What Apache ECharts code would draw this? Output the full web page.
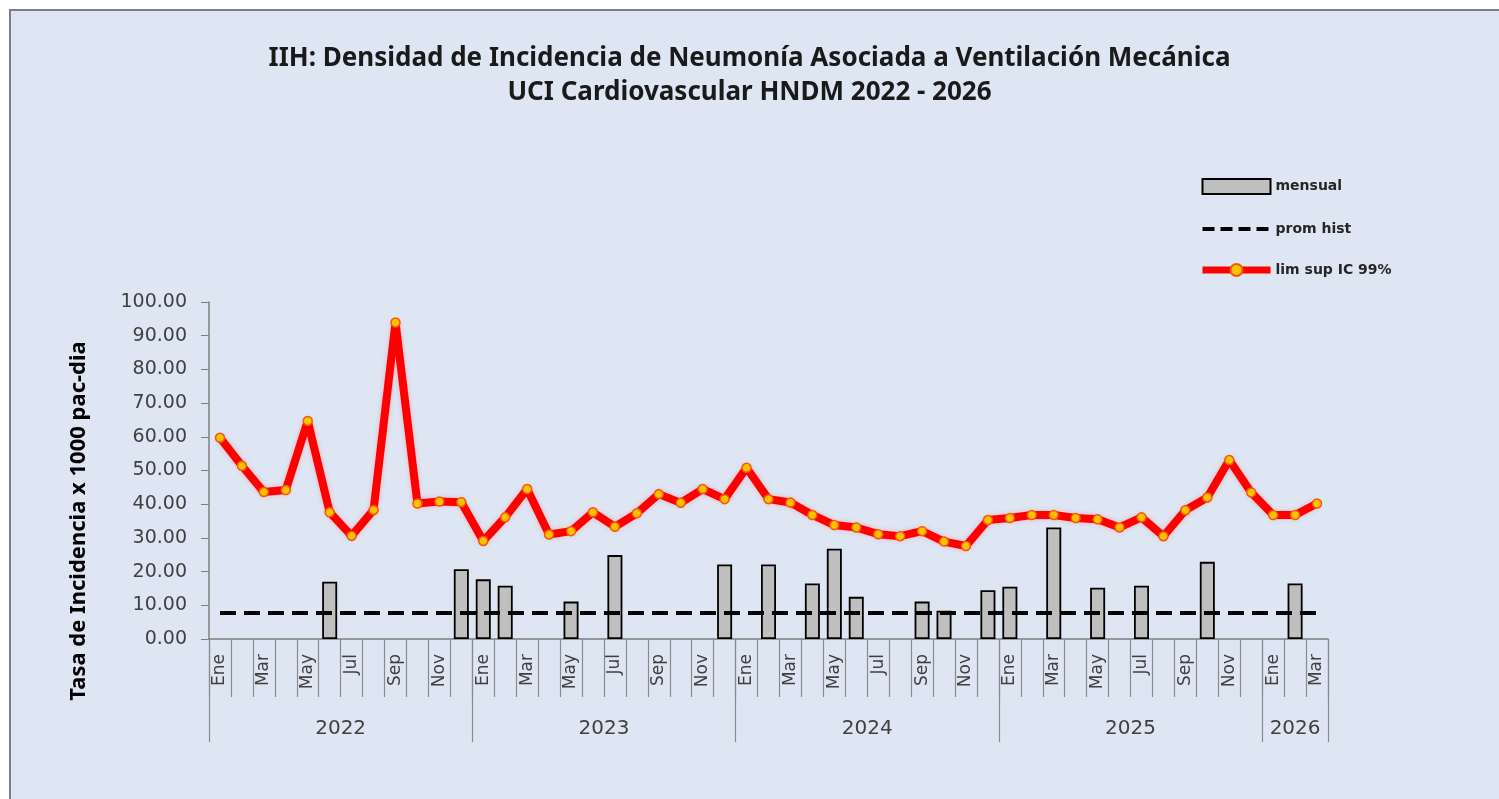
<!DOCTYPE html>
<html>
<head>
<meta charset="utf-8">
<script src="https://cdn.jsdelivr.net/npm/echarts@6/dist/echarts.min.js"></script>
<style>
html,body{margin:0;padding:0;background:#fff;}
#c{width:1499px;height:799px;}
</style>
</head>
<body>
<div id="c"></div>
<script>
// ---- data ----
var years = ['2022', '2023', '2024', '2025', '2026'];
var monthsPerYear = [12, 12, 12, 12, 3];
var months = ['Ene', 'Feb', 'Mar', 'Abr', 'May', 'Jun', 'Jul', 'Ago', 'Sep', 'Oct', 'Nov', 'Dic'];

var mensual = [
  null, null, null, null, null, 17.0, null, null, null, null, null, 20.7,
  17.7, 15.8, null, null, 11.1, null, 24.9, null, null, null, null, 22.1,
  null, 22.1, null, 16.5, 26.8, 12.5, null, null, 11.1, 8.4, null, 14.5,
  15.5, null, 33.1, null, 15.2, null, 15.8, null, null, 22.9, null, null,
  null, 16.5, null
];
var promHist = [
  7.7, 7.7, 7.7, 7.7, 7.7, 7.7, 7.7, 7.7, 7.7, 7.7, 7.7, 7.7,
  7.7, 7.7, 7.7, 7.7, 7.7, 7.7, 7.7, 7.7, 7.7, 7.7, 7.7, 7.7,
  7.7, 7.7, 7.7, 7.7, 7.7, 7.7, 7.7, 7.7, 7.7, 7.7, 7.7, 7.7,
  7.7, 7.7, 7.7, 7.7, 7.7, 7.7, 7.7, 7.7, 7.7, 7.7, 7.7, 7.7,
  7.7, 7.7, 7.7
];
var limSup = [
  59.7, 51.4, 43.6, 44.2, 64.7, 37.6, 30.6, 38.3, 93.9, 40.2, 40.8, 40.6,
  29.1, 36.1, 44.5, 31.0, 32.0, 37.6, 33.3, 37.3, 43.0, 40.4, 44.5, 41.5,
  50.8, 41.5, 40.5, 36.8, 33.8, 33.1, 31.1, 30.5, 32.0, 28.9, 27.6, 35.3,
  35.9, 36.8, 36.8, 35.9, 35.5, 33.1, 36.1, 30.5, 38.2, 42.0, 53.1, 43.5,
  36.8, 36.8, 40.2
];
var yTicks = { min: 0, max: 100, interval: 10 };
var seriesNames = ['mensual', 'prom hist', 'lim sup IC 99%'];
var titleLines = ['IIH: Densidad de Incidencia de Neumonía Asociada a Ventilación Mecánica', 'UCI Cardiovascular HNDM 2022 - 2026'];
var yTitle = 'Tasa de Incidencia x 1000 pac-dia';

// ---- derived ----
var categories = [];
var yearStarts = [0];
var yearCenters = [];
(function () {
  var pos = 0;
  for (var y = 0; y < years.length; y++) {
    for (var m = 0; m < monthsPerYear[y]; m++) {
      categories.push(years[y] + '-' + months[m]);
    }
    yearCenters.push(pos + monthsPerYear[y] / 2);
    pos += monthsPerYear[y];
    yearStarts.push(pos);
  }
})();
var total = categories.length;

var FONT = '"Noto Sans", "Open Sans", sans-serif';
var NUMFONT = '"DejaVu Sans", "Noto Sans", sans-serif';
var chart = echarts.init(document.getElementById('c'), null, { renderer: 'canvas' });

chart.setOption({
  backgroundColor: '#ffffff',
  animation: false,
  graphic: [
    {
      type: 'rect', z: -100, silent: true,
      shape: { x: 10, y: 10, width: 1500, height: 800 },
      style: { fill: '#DEE5F3', stroke: '#7A7F88', lineWidth: 2 }
    },
    {
      type: 'text', z: 100, silent: true,
      x: 79, y: 521, rotation: Math.PI / 2,
      style: {
        text: yTitle, fill: '#000', font: 'bold 22px ' + FONT,
        textAlign: 'center', textVerticalAlign: 'middle'
      }
    }
  ],
  title: {
    text: titleLines.join('\n'),
    left: 'center',
    top: 37,
    textStyle: { fontFamily: FONT, fontSize: 26, fontWeight: 'bold', color: '#1a1a1a', lineHeight: 34 }
  },
  legend: {
    orient: 'vertical',
    left: 1199,
    top: 178,
    padding: 0,
    itemWidth: 68,
    itemHeight: 15,
    itemGap: 27,
    textStyle: { fontFamily: NUMFONT, fontSize: 14, fontWeight: 'bold', color: '#262626' },
    data: [
      { name: seriesNames[0], icon: 'rect' },
      { name: seriesNames[1], itemStyle: { color: 'transparent', borderWidth: 0 }, lineStyle: { width: 4, type: [12, 6] } },
      { name: seriesNames[2], lineStyle: { width: 7 } }
    ]
  },
  grid: { left: 209, right: 171, top: 302, bottom: 160, containLabel: false },
  xAxis: [
    {
      type: 'category',
      data: categories,
      boundaryGap: true,
      axisLine: { show: true, lineStyle: { color: '#7f7f7f', width: 1.5 } },
      axisTick: { show: true, interval: 0, length: 58, lineStyle: { color: '#8a8a8a', width: 1.2 } },
      axisLabel: {
        interval: 1, rotate: 90, margin: 15,
        fontFamily: NUMFONT, fontSize: 17, color: '#404040',
        formatter: function (v) { return v.split('-')[1]; }
      },
      splitLine: { show: false }
    },
    {
      type: 'value',
      position: 'bottom',
      min: 0, max: total,
      axisLine: { show: false },
      splitLine: { show: false },
      axisTick: { show: true, length: 103, customValues: yearStarts, lineStyle: { color: '#8a8a8a', width: 1.2 } },
      axisLabel: {
        show: true, margin: 80, customValues: yearCenters,
        fontFamily: NUMFONT, fontSize: 20, color: '#404040',
        formatter: function (v) {
          for (var i = 0; i < yearCenters.length; i++) { if (Math.abs(yearCenters[i] - v) < 1e-6) return years[i]; }
          return '';
        }
      }
    }
  ],
  yAxis: {
    type: 'value',
    min: yTicks.min, max: yTicks.max, interval: yTicks.interval,
    axisLine: { show: true, lineStyle: { color: '#7f7f7f', width: 1.5 } },
    axisTick: { show: true, length: 8, lineStyle: { color: '#7f7f7f' } },
    splitLine: { show: false },
    axisLabel: {
      margin: 22, fontFamily: NUMFONT, fontSize: 19, color: '#404040',
      formatter: function (v) { return v.toFixed(2); }
    }
  },
  series: [
    {
      name: seriesNames[0], type: 'bar', xAxisIndex: 0, z: 2,
      data: mensual, barWidth: 15,
      itemStyle: { color: '#BFBFBF', borderColor: '#000', borderWidth: 1.8 }
    },
    {
      name: seriesNames[1], type: 'line', xAxisIndex: 0, z: 3,
      data: promHist, symbol: 'none',
      lineStyle: { color: '#000', width: 4, type: [16, 8] },
      itemStyle: { color: '#000' }
    },
    {
      name: seriesNames[2], type: 'line', xAxisIndex: 0, z: 4,
      data: limSup, symbol: 'circle', symbolSize: 9,
      lineStyle: { color: '#FF0000', width: 8, shadowColor: 'rgba(255,120,120,0.5)', shadowBlur: 4 },
      itemStyle: { color: '#FFC000', borderColor: '#F05A0A', borderWidth: 1.5 }
    }
  ]
});
</script>
</body>
</html>
